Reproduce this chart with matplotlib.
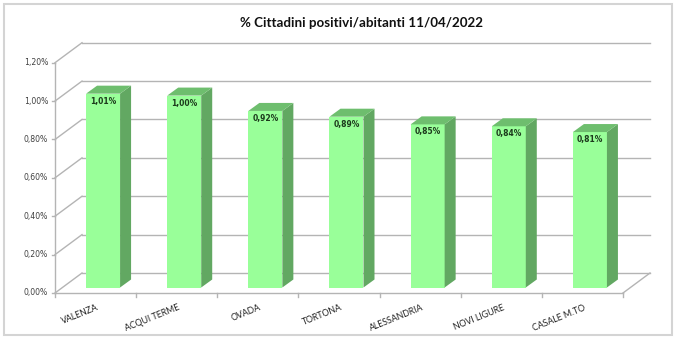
import matplotlib
matplotlib.use("Agg")
import matplotlib.pyplot as plt
from matplotlib.patches import Polygon, Rectangle
import numpy as np

categories = ["VALENZA", "ACQUI TERME", "OVADA", "TORTONA", "ALESSANDRIA", "NOVI LIGURE", "CASALE M.TO"]
values = [1.01, 1.00, 0.92, 0.89, 0.85, 0.84, 0.81]
yticks = [0.0, 0.2, 0.4, 0.6, 0.8, 1.0, 1.2]
ytick_labels = ["0,00%", "0,20%", "0,40%", "0,60%", "0,80%", "1,00%", "1,20%"]
title = "% Cittadini positivi/abitanti 11/04/2022"

W, H = 680, 341
fig = plt.figure(figsize=(W / 100, H / 100), dpi=100)
fig.patch.set_facecolor("white")

# front plane of the chart in pixels
x0, x1 = 55, 623
y0, y1 = 293, 62.7
ax = fig.add_axes([x0 / W, (H - y0) / H, (x1 - x0) / W, (y0 - y1) / H])
n = len(categories)
ax.set_xlim(-0.5, n - 0.5)
ax.set_ylim(0, 1.2)
ax.axis("off")

pxx = (x1 - x0) / n          # pixels per x unit
pxy = (y0 - y1) / 1.2        # pixels per y unit
def dxp(p): return p / pxx
def dyp(p): return p / pxy

grid_c = "#b4b4b4"
lw = 1.0
# depth of the chart
DX, DY = dxp(27), dyp(20)
xl, xr = -0.5, n - 0.5

# back wall gridlines and left wall diagonals
for t, lab in zip(yticks, ytick_labels):
    ax.plot([xl + DX, xr + DX], [t + DY, t + DY], color=grid_c, lw=lw, clip_on=False, zorder=1)
    ax.plot([xl, xl + DX], [t, t + DY], color=grid_c, lw=lw, clip_on=False, zorder=1)
    ax.plot([xl - dxp(3), xl], [t, t], color=grid_c, lw=lw, clip_on=False, zorder=1)
    ax.text(xl - dxp(7), t, lab, ha="right", va="center",
            fontsize=5.6, color="#404040", family="DejaVu Sans")
# front axis, floor
ax.plot([xl, xl], [0, 1.2], color=grid_c, lw=lw, clip_on=False, zorder=1)
ax.plot([xl, xr], [0, 0], color=grid_c, lw=lw, clip_on=False, zorder=1)
ax.plot([xr, xr + DX], [0, DY], color=grid_c, lw=lw, clip_on=False, zorder=1)
for b in np.arange(-0.5, n, 1.0):
    ax.plot([b, b], [0, -dyp(4)], color=grid_c, lw=lw, clip_on=False, zorder=1)

# bars
front_c = "#99FF99"
side_c = "#62A862"
top_c = "#6EBE6E"
ox, oy = dxp(7.5), dyp(5.5)
bw = dxp(34)
bdx, bdy = dxp(11), dyp(8)
for i, v in enumerate(values):
    cx = i + ox
    l, r = cx - bw / 2, cx + bw / 2
    ax.bar(cx, v, width=bw, bottom=oy, color=front_c, edgecolor="none", zorder=3)
    ax.add_patch(Polygon([(r, oy), (r + bdx, oy + bdy), (r + bdx, oy + v + bdy), (r, oy + v)],
                         closed=True, facecolor=side_c, edgecolor="none", zorder=3, clip_on=False))
    ax.add_patch(Polygon([(l, oy + v), (r, oy + v), (r + bdx, oy + v + bdy), (l + bdx, oy + v + bdy)],
                         closed=True, facecolor=top_c, edgecolor="none", zorder=3, clip_on=False))
    ax.text(cx, oy + v - dyp(3), f"{v:.2f}%".replace(".", ","), ha="center", va="top",
            fontsize=5.5, fontweight="bold", color="#1c3a1c", zorder=4, family="DejaVu Sans")
    ax.text(i + dxp(1), -dyp(10), categories[i], ha="right", va="top", rotation=22,
            rotation_mode="anchor", fontsize=6.3, color="#222222", family="Lato")

fig.text(362 / W, 1 - 23 / H, title, ha="center", va="center", fontsize=9.6,
         fontweight="bold", family="Lato", color="#111111")

fig.add_artist(Rectangle((4 / W, 6 / H), 668 / W, 331 / H, transform=fig.transFigure,
                         fill=False, edgecolor="#d4d4d4", lw=1.5))

fig.savefig("out.png", dpi=100)
